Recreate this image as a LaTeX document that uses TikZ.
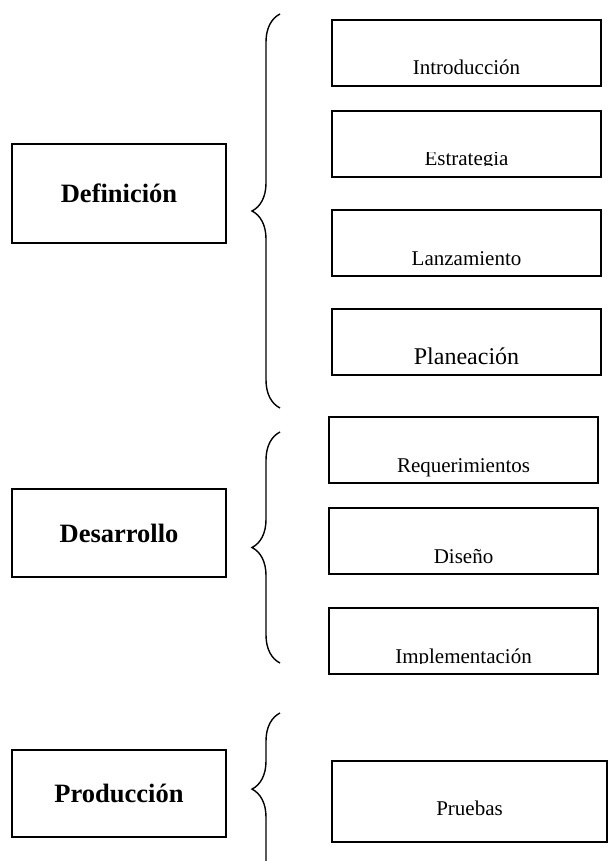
\documentclass[tikz,border=0pt]{standalone}
\usepackage{fontspec}
\setmainfont{Liberation Serif}
\usepackage{xcolor}
\usepackage{trimclip}
\definecolor{diaLine}{HTML}{000000}
\usetikzlibrary{positioning,decorations.pathreplacing}
\tikzset{
    phase/.style={
        draw=diaLine,
        rectangle,
        line width=1.6pt,
        outer sep=0pt,
        inner sep=0pt,
        minimum width=214pt,
        minimum height=99pt,
        align=center,
        font=\fontsize{26.5}{30}\selectfont\bfseries
    },
    task/.style={
        draw=diaLine,
        rectangle,
        line width=1.6pt,
        outer sep=0pt,
        inner sep=0pt,
        minimum width=269pt,
        minimum height=66pt,
        text height=44pt,
        text depth=0pt,
        font=\fontsize{21}{25}\selectfont
    },
    bracket/.style={
        draw=diaLine,
        line width=1.4pt,
        decorate,
        decoration={brace, amplitude=28pt}
    }
}
\newcommand{\cutdepth}[1]{\clipbox{0pt {\depth} 0pt 0pt}{#1}}

\begin{document}
\begin{tikzpicture}[x=1pt, y=-1pt, node distance=33pt]
    \useasboundingbox (0,0) rectangle (608,861);

    % fases
    \node[phase] (definicion) at (119,193.5) {Definición};
    \node[phase, minimum height=88pt] (desarrollo) at (119,533) {Desarrollo};
    \node[phase, minimum height=87pt] (produccion) at (119,793.5) {Producción};

    % definicion
    \node[task] (intro) at (466.5,53) {Introducción};
    \node[task, below=25pt of intro] (estrategia) {\cutdepth{Estrategia}};
    \node[task, below=of estrategia] (lanzamiento) {Lanzamiento};
    \node[task, below=of lanzamiento, font=\fontsize{24}{28}\selectfont] (planeacion) {Planeación};

    % desarrollo
    \node[task] (requerimientos) at (463.5,450) {Requerimientos};
    \node[task, below=25pt of requerimientos] (diseno) {Diseño};
    \node[task, below=34pt of diseno] (implementacion) {\cutdepth{Implementación}};

    % produccion
    \node[task, minimum width=275pt, minimum height=81pt, text height=27pt] (pruebas) at (469.5,801.5) {Pruebas};

    \draw[bracket] (280,408) -- (280,14);
    \draw[bracket] (280,663) -- (280,432);
    \draw[bracket, decoration={aspect=0.57}] (280,890) -- (280,713);
\end{tikzpicture}
\end{document}
